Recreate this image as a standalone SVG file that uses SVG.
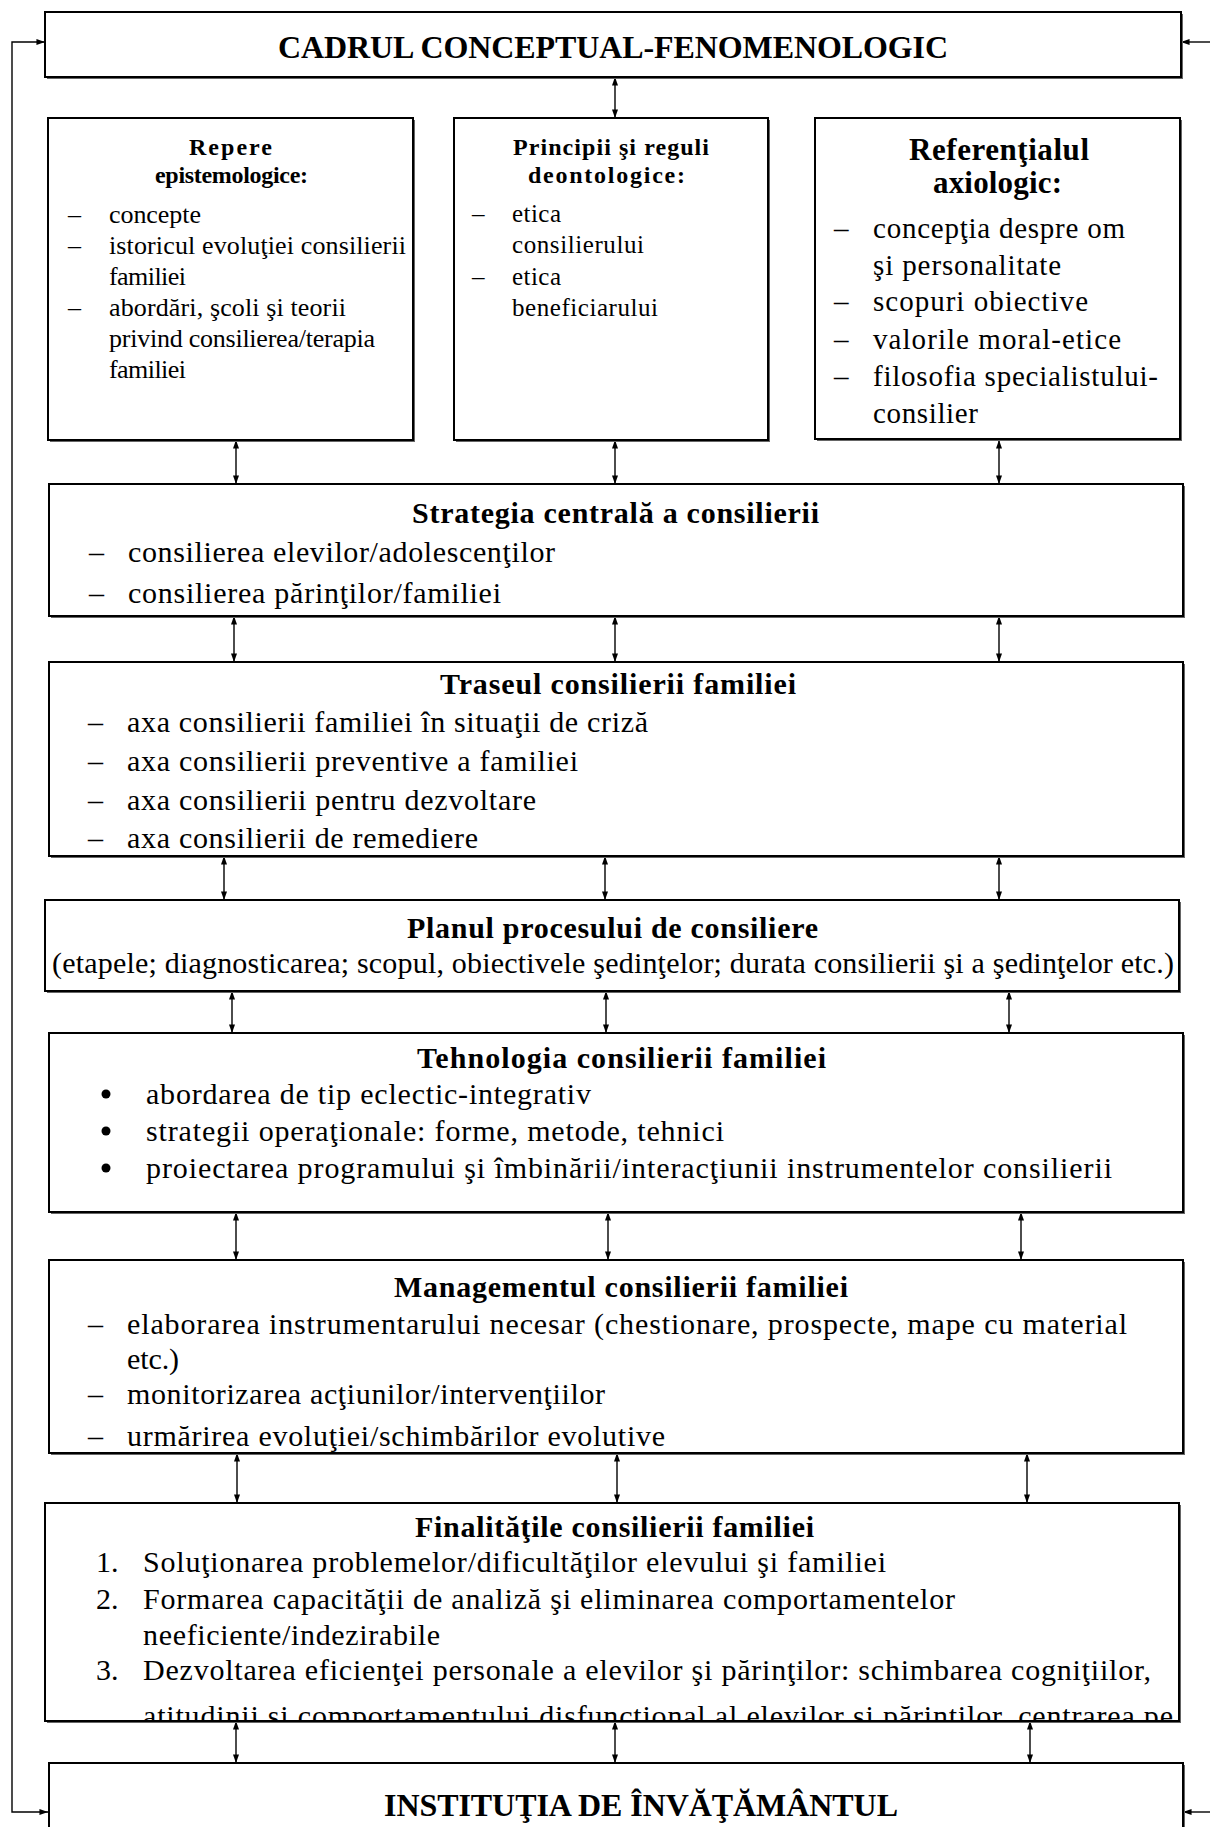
<svg xmlns="http://www.w3.org/2000/svg" width="1210" height="1827" viewBox="0 0 1210 1827">
<style>
.box{fill:#fff;stroke:#000;stroke-width:2}
.sh{fill:#666}
text{font-family:"Liberation Serif","Times New Roman",serif;fill:#000}
.h{font-weight:bold}
.c line,.c path{stroke:#000;stroke-width:1.4;fill:none;marker-start:url(#ah);marker-end:url(#ah)}
.c .one{marker-start:none}
</style>
<defs>
<marker id="ah" viewBox="0 0 10 7" refX="10" refY="3.5" markerWidth="9" markerHeight="6" markerUnits="userSpaceOnUse" orient="auto-start-reverse"><path d="M0,0 L10,3.5 L0,7 z" fill="#000"/></marker>
<clipPath id="clipM"><rect x="48" y="1260" width="1135" height="193"/></clipPath>
<clipPath id="clipF"><rect x="45" y="1503" width="1134" height="218"/></clipPath>
</defs>

<g class="c" id="connectors">
<path d="M45,42 H12 V1812 H48"/>
<line class="one" x1="1210" y1="42" x2="1181" y2="42"/>
<line class="one" x1="1210" y1="1812" x2="1183" y2="1812"/>
<line x1="615" y1="77" x2="615" y2="118"/>
<line x1="236" y1="440" x2="236" y2="484"/>
<line x1="615" y1="440" x2="615" y2="484"/>
<line x1="999" y1="440" x2="999" y2="484"/>
<line x1="234" y1="616" x2="234" y2="662"/>
<line x1="615" y1="616" x2="615" y2="662"/>
<line x1="999" y1="616" x2="999" y2="662"/>
<line x1="224" y1="856" x2="224" y2="900"/>
<line x1="605" y1="856" x2="605" y2="900"/>
<line x1="999" y1="856" x2="999" y2="900"/>
<line x1="232" y1="991" x2="232" y2="1033"/>
<line x1="606" y1="991" x2="606" y2="1033"/>
<line x1="1009" y1="991" x2="1009" y2="1033"/>
<line x1="236" y1="1212" x2="236" y2="1260"/>
<line x1="608" y1="1212" x2="608" y2="1260"/>
<line x1="1021" y1="1212" x2="1021" y2="1260"/>
<line x1="237" y1="1453" x2="237" y2="1503"/>
<line x1="617" y1="1453" x2="617" y2="1503"/>
<line x1="1027" y1="1453" x2="1027" y2="1503"/>
<line x1="236" y1="1721" x2="236" y2="1763"/>
<line x1="615" y1="1721" x2="615" y2="1763"/>
<line x1="1030" y1="1721" x2="1030" y2="1763"/>
</g>

<g id="cadrul">
<rect class="sh" x="47" y="14" width="1136" height="65"/>
<rect class="box" x="45" y="12" width="1136" height="65"/>
<text class="h" x="278" y="58" font-size="32" textLength="670" lengthAdjust="spacing">CADRUL CONCEPTUAL-FENOMENOLOGIC</text>
</g>

<g id="repere">
<rect class="sh" x="50" y="120" width="365" height="322"/>
<rect class="box" x="48" y="118" width="365" height="322"/>
<text class="h" x="189" y="155" font-size="24" textLength="83" lengthAdjust="spacing">Repere</text>
<text class="h" x="155" y="183" font-size="24" textLength="153" lengthAdjust="spacing">epistemologice:</text>
<g font-size="26">
<text x="68" y="223">–</text><text x="109" y="223" textLength="92" lengthAdjust="spacing">concepte</text>
<text x="68" y="254">–</text><text x="109" y="254" textLength="297" lengthAdjust="spacing">istoricul evoluţiei consilierii</text>
<text x="109" y="285" textLength="77" lengthAdjust="spacing">familiei</text>
<text x="68" y="316">–</text><text x="109" y="316" textLength="237" lengthAdjust="spacing">abordări, şcoli şi teorii</text>
<text x="109" y="347" textLength="266" lengthAdjust="spacing">privind consilierea/terapia</text>
<text x="109" y="378" textLength="77" lengthAdjust="spacing">familiei</text>
</g>
</g>

<g id="principii">
<rect class="sh" x="456" y="120" width="314" height="322"/>
<rect class="box" x="454" y="118" width="314" height="322"/>
<text class="h" x="513" y="155" font-size="24" textLength="196" lengthAdjust="spacing">Principii şi reguli</text>
<text class="h" x="528" y="183" font-size="24" textLength="157" lengthAdjust="spacing">deontologice:</text>
<g font-size="25">
<text x="472" y="222">–</text><text x="512" y="222" textLength="49" lengthAdjust="spacing">etica</text>
<text x="512" y="253" textLength="132" lengthAdjust="spacing">consilierului</text>
<text x="472" y="285">–</text><text x="512" y="285" textLength="49" lengthAdjust="spacing">etica</text>
<text x="512" y="316" textLength="146" lengthAdjust="spacing">beneficiarului</text>
</g>
</g>

<g id="referential">
<rect class="sh" x="817" y="120" width="365" height="321"/>
<rect class="box" x="815" y="118" width="365" height="321"/>
<text class="h" x="909" y="160" font-size="31" textLength="180" lengthAdjust="spacing">Referenţialul</text>
<text class="h" x="933" y="193" font-size="31" textLength="129" lengthAdjust="spacing">axiologic:</text>
<g font-size="29">
<text x="834" y="238">–</text><text x="873" y="238" textLength="252" lengthAdjust="spacing">concepţia despre om</text>
<text x="873" y="275" textLength="188" lengthAdjust="spacing">şi personalitate</text>
<text x="834" y="311">–</text><text x="873" y="311" textLength="215" lengthAdjust="spacing">scopuri obiective</text>
<text x="834" y="349">–</text><text x="873" y="349" textLength="248" lengthAdjust="spacing">valorile moral-etice</text>
<text x="834" y="386">–</text><text x="873" y="386" textLength="285" lengthAdjust="spacing">filosofia specialistului-</text>
<text x="873" y="423" textLength="105" lengthAdjust="spacing">consilier</text>
</g>
</g>

<g id="strategia">
<rect class="sh" x="51" y="486" width="1134" height="132"/>
<rect class="box" x="49" y="484" width="1134" height="132"/>
<text class="h" x="412" y="523" font-size="30" textLength="407" lengthAdjust="spacing">Strategia centrală a consilierii</text>
<g font-size="30">
<text x="89" y="562">–</text><text x="128" y="562" textLength="427" lengthAdjust="spacing">consilierea elevilor/adolescenţilor</text>
<text x="89" y="603">–</text><text x="128" y="603" textLength="373" lengthAdjust="spacing">consilierea părinţilor/familiei</text>
</g>
</g>

<g id="traseul">
<rect class="sh" x="51" y="664" width="1134" height="194"/>
<rect class="box" x="49" y="662" width="1134" height="194"/>
<text class="h" x="440" y="694" font-size="30" textLength="356" lengthAdjust="spacing">Traseul consilierii familiei</text>
<g font-size="30">
<text x="88" y="732">–</text><text x="127" y="732" textLength="521" lengthAdjust="spacing">axa consilierii familiei în situaţii de criză</text>
<text x="88" y="771">–</text><text x="127" y="771" textLength="451" lengthAdjust="spacing">axa consilierii preventive a familiei</text>
<text x="88" y="810">–</text><text x="127" y="810" textLength="409" lengthAdjust="spacing">axa consilierii pentru dezvoltare</text>
<text x="88" y="848">–</text><text x="127" y="848" textLength="351" lengthAdjust="spacing">axa consilierii de remediere</text>
</g>
</g>

<g id="planul">
<rect class="sh" x="47" y="902" width="1134" height="91"/>
<rect class="box" x="45" y="900" width="1134" height="91"/>
<text class="h" x="407" y="938" font-size="30" textLength="411" lengthAdjust="spacing">Planul procesului de consiliere</text>
<text x="52" y="973" font-size="30" textLength="1122" lengthAdjust="spacing">(etapele; diagnosticarea; scopul, obiectivele şedinţelor; durata consilierii şi a şedinţelor etc.)</text>
</g>

<g id="tehnologia">
<rect class="sh" x="51" y="1035" width="1134" height="179"/>
<rect class="box" x="49" y="1033" width="1134" height="179"/>
<text class="h" x="417" y="1068" font-size="30" textLength="409" lengthAdjust="spacing">Tehnologia consilierii familiei</text>
<g font-size="30">
<circle cx="106" cy="1094" r="4.5"/><text x="146" y="1104" textLength="445" lengthAdjust="spacing">abordarea de tip eclectic-integrativ</text>
<circle cx="106" cy="1131" r="4.5"/><text x="146" y="1141" textLength="578" lengthAdjust="spacing">strategii operaţionale: forme, metode, tehnici</text>
<circle cx="106" cy="1168" r="4.5"/><text x="146" y="1178" textLength="966" lengthAdjust="spacing">proiectarea programului şi îmbinării/interacţiunii instrumentelor consilierii</text>
</g>
</g>

<g id="managementul">
<rect class="sh" x="51" y="1262" width="1134" height="193"/>
<rect class="box" x="49" y="1260" width="1134" height="193"/>
<text class="h" x="394" y="1297" font-size="30" textLength="454" lengthAdjust="spacing">Managementul consilierii familiei</text>
<g font-size="30" clip-path="url(#clipM)">
<text x="88" y="1334">–</text><text x="127" y="1334" textLength="1000" lengthAdjust="spacing">elaborarea instrumentarului necesar (chestionare, prospecte, mape cu material</text>
<text x="127" y="1369" textLength="52" lengthAdjust="spacing">etc.)</text>
<text x="88" y="1404">–</text><text x="127" y="1404" textLength="478" lengthAdjust="spacing">monitorizarea acţiunilor/intervenţiilor</text>
<text x="88" y="1446">–</text><text x="127" y="1446" textLength="538" lengthAdjust="spacing">urmărirea evoluţiei/schimbărilor evolutive</text>
</g>
</g>

<g id="finalitatile">
<rect class="sh" x="47" y="1505" width="1134" height="218"/>
<rect class="box" x="45" y="1503" width="1134" height="218"/>
<text class="h" x="415" y="1537" font-size="30" textLength="399" lengthAdjust="spacing">Finalităţile consilierii familiei</text>
<g font-size="30" clip-path="url(#clipF)">
<text x="96" y="1572">1.</text><text x="143" y="1572" textLength="743" lengthAdjust="spacing">Soluţionarea problemelor/dificultăţilor elevului şi familiei</text>
<text x="96" y="1609">2.</text><text x="143" y="1609" textLength="812" lengthAdjust="spacing">Formarea capacităţii de analiză şi eliminarea comportamentelor</text>
<text x="143" y="1645" textLength="297" lengthAdjust="spacing">neeficiente/indezirabile</text>
<text x="96" y="1680">3.</text><text x="143" y="1680" textLength="1008" lengthAdjust="spacing">Dezvoltarea eficienţei personale a elevilor şi părinţilor: schimbarea cogniţiilor,</text>
<text x="143" y="1726" textLength="1030" lengthAdjust="spacing">atitudinii şi comportamentului disfuncţional al elevilor şi părinţilor, centrarea pe</text>
</g>
</g>

<g id="institutia">
<rect class="sh" x="51" y="1765" width="1134" height="100"/>
<rect class="box" x="49" y="1763" width="1134" height="100"/>
<text class="h" x="384" y="1816" font-size="32" textLength="514" lengthAdjust="spacing">INSTITUŢIA DE ÎNVĂŢĂMÂNTUL</text>
</g>
</svg>
